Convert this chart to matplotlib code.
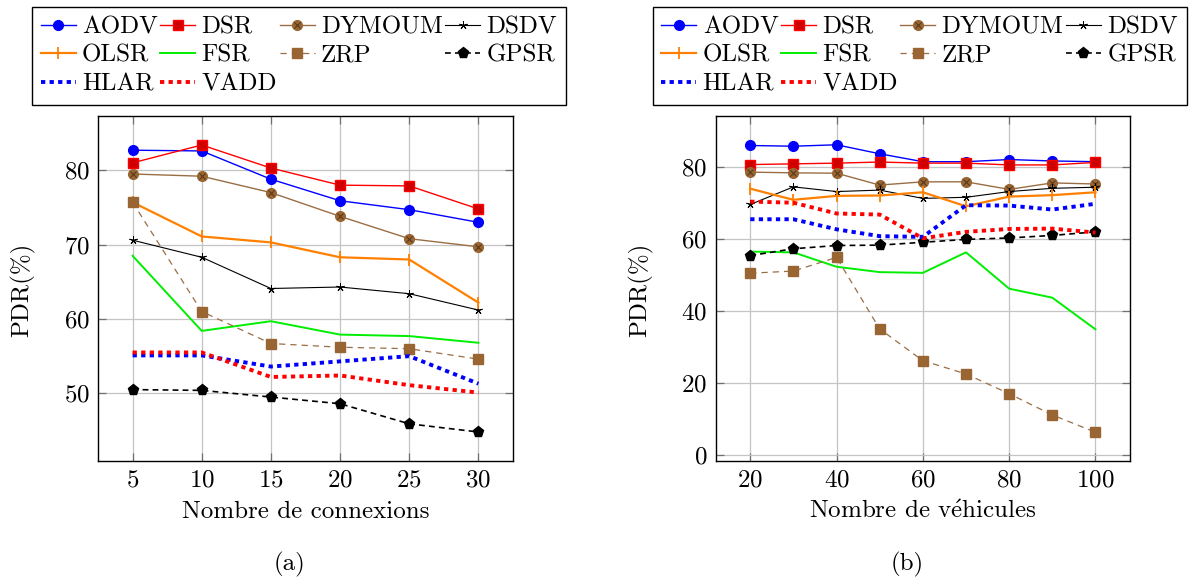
import matplotlib
matplotlib.use("Agg")
import matplotlib.pyplot as plt

plt.rcParams['font.family'] = ['cmr10', 'DejaVu Serif']
plt.rcParams['mathtext.fontset'] = 'cm'
plt.rcParams['axes.formatter.use_mathtext'] = True
plt.rcParams['font.size'] = 18

# ---- data ----
x_conn = [5, 10, 15, 20, 25, 30]
x_veh = [20, 30, 40, 50, 60, 70, 80, 90, 100]

protocols = ['AODV', 'DSR', 'DYMOUM', 'DSDV', 'OLSR', 'FSR', 'ZRP', 'GPSR', 'HLAR', 'VADD']

pdr_conn_aodv = [82.7, 82.6, 78.8, 75.9, 74.7, 73.0]
pdr_conn_dsr = [81.0, 83.4, 80.3, 78.0, 77.9, 74.8]
pdr_conn_dymoum = [79.5, 79.2, 77.0, 73.8, 70.8, 69.7]
pdr_conn_dsdv = [70.6, 68.3, 64.1, 64.3, 63.4, 61.2]
pdr_conn_olsr = [75.7, 71.1, 70.3, 68.3, 68.0, 62.2]
pdr_conn_fsr = [68.5, 58.4, 59.7, 57.9, 57.7, 56.8]
pdr_conn_zrp = [75.7, 61.0, 56.7, 56.2, 56.0, 54.6]
pdr_conn_gpsr = [50.5, 50.4, 49.5, 48.6, 45.9, 44.8]
pdr_conn_hlar = [55.1, 55.1, 53.6, 54.3, 55.0, 51.3]
pdr_conn_vadd = [55.5, 55.5, 52.2, 52.4, 51.1, 50.1]

pdr_veh_aodv = [85.9, 85.7, 86.1, 83.6, 81.4, 81.4, 82.0, 81.6, 81.4]
pdr_veh_dsr = [80.6, 80.8, 81.0, 81.3, 81.0, 81.0, 80.5, 80.5, 81.2]
pdr_veh_dymoum = [78.5, 78.3, 78.2, 74.9, 75.8, 75.8, 73.7, 75.5, 75.2]
pdr_veh_dsdv = [69.5, 74.4, 73.1, 73.5, 71.2, 71.5, 73.1, 74.0, 74.3]
pdr_veh_olsr = [73.9, 70.8, 71.9, 72.0, 72.9, 69.0, 71.7, 72.1, 72.9]
pdr_veh_fsr = [56.4, 56.2, 52.2, 50.7, 50.5, 56.2, 46.1, 43.6, 34.8]
pdr_veh_zrp = [50.4, 51.0, 54.8, 34.9, 26.1, 22.4, 16.9, 11.0, 6.2]
pdr_veh_gpsr = [55.3, 57.2, 58.1, 58.2, 59.0, 59.8, 60.2, 60.9, 61.9]
pdr_veh_hlar = [65.4, 65.4, 62.6, 60.7, 60.5, 69.3, 69.2, 68.1, 69.7]
pdr_veh_vadd = [70.3, 70.0, 67.0, 66.7, 60.1, 61.9, 62.7, 62.8, 61.7]

conn_data = [pdr_conn_aodv, pdr_conn_dsr, pdr_conn_dymoum, pdr_conn_dsdv, pdr_conn_olsr,
             pdr_conn_fsr, pdr_conn_zrp, pdr_conn_gpsr, pdr_conn_hlar, pdr_conn_vadd]
veh_data = [pdr_veh_aodv, pdr_veh_dsr, pdr_veh_dymoum, pdr_veh_dsdv, pdr_veh_olsr,
            pdr_veh_fsr, pdr_veh_zrp, pdr_veh_gpsr, pdr_veh_hlar, pdr_veh_vadd]

BROWN_LINE = '#9a6e45'
BROWN_MARK = '#996633'

styles = {
    'AODV': dict(color='blue', lw=1.0, marker='o', ms=7, mfc='blue', mec='blue'),
    'DSR': dict(color='red', lw=1.0, marker='s', ms=7, mfc='#d00000', mec='red'),
    'DYMOUM': dict(color=BROWN_LINE, lw=1.0, marker='o', ms=7, mfc=BROWN_MARK, mec=BROWN_MARK),
    'DSDV': dict(color='black', lw=0.8, marker=(5, 2, 0), ms=6, mec='black', mew=0.7),
    'OLSR': dict(color='#ff8000', lw=1.6, marker='|', ms=9, mec='#ff8000', mew=1.3),
    'FSR': dict(color='#00ee00', lw=1.4),
    'ZRP': dict(color=BROWN_LINE, lw=0.9, ls=(0, (5, 4)), marker='s', ms=7,
                mfc=BROWN_MARK, mec=BROWN_MARK),
    'GPSR': dict(color='black', lw=1.2, ls=(0, (3.5, 2.5)), marker='p', ms=8,
                 mfc='black', mec='black'),
    'HLAR': dict(color='blue', lw=2.8, ls=(0, (1.1, 1.1))),
    'VADD': dict(color='red', lw=2.8, ls=(0, (1.1, 1.1))),
}

fig = plt.figure(figsize=(11.89, 5.81), dpi=100)
W, H = 1189, 581


def px(x, y):
    return x / W, 1 - y / H


def draw(ax, x, data):
    handles = {}
    for name, ys in zip(protocols, data):
        line, = ax.plot(x, ys, label=name, **styles[name])
        if name == 'DYMOUM':
            xm, = ax.plot(x, ys, ls='none', marker='x', ms=5, mec='#5a3a1a', mew=0.8)
            handles[name] = (line, xm)
        else:
            handles[name] = line
    ax.grid(True, color='#c4c4c4', lw=0.9)
    ax.set_axisbelow(True)
    ax.tick_params(direction='in', top=True, right=True, length=6, width=0.9,
                   color='#707070', pad=6, labelsize=18)
    for s in ax.spines.values():
        s.set_linewidth(1.0)
    return handles


def add_legend(handles, left):
    order = ['AODV', 'OLSR', 'HLAR', 'DSR', 'FSR', 'VADD', 'DYMOUM', 'ZRP', 'DSDV', 'GPSR']
    leg = fig.legend([handles[k] for k in order], order, ncol=4, loc='upper left',
                     bbox_to_anchor=px(left, 7), fontsize=18, frameon=True,
                     fancybox=False, edgecolor='black', framealpha=1,
                     handlelength=1.4, handletextpad=0.25, columnspacing=0.1,
                     labelspacing=0.25, borderpad=0.35, borderaxespad=0)
    leg.get_frame().set_linewidth(1.0)


ax_a = fig.add_axes([98 / W, 1 - 461 / H, 415 / W, 345 / H])
ha = draw(ax_a, x_conn, conn_data)
ax_a.set_xlim(2.5, 32.5)
ax_a.set_ylim(40.9, 87.3)
ax_a.set_xticks(x_conn)
ax_a.set_yticks([50, 60, 70, 80])

ax_b = fig.add_axes([715.7 / W, 1 - 461 / H, 414.3 / W, 345 / H])
hb = draw(ax_b, x_veh, veh_data)
ax_b.set_xlim(12, 108)
ax_b.set_ylim(-1.8, 94.1)
ax_b.set_xticks([20, 40, 60, 80, 100])
ax_b.set_yticks([0, 20, 40, 60, 80])

add_legend(ha, 32)
add_legend(hb, 652.7)

fig.text(*px(23, 290), 'PDR(%)', rotation=90, ha='center', va='center')
fig.text(*px(641, 290), 'PDR(%)', rotation=90, ha='center', va='center')
fig.text(*px(306, 512), 'Nombre de connexions', ha='center', va='center')
fig.text(*px(923, 512), r'Nombre de v$\acute{\mathrm{e}}$hicules', ha='center', va='center')
fig.text(*px(290, 564), '(a)', ha='center', va='center')
fig.text(*px(907, 564), '(b)', ha='center', va='center')

fig.savefig('out.png', dpi=100)
